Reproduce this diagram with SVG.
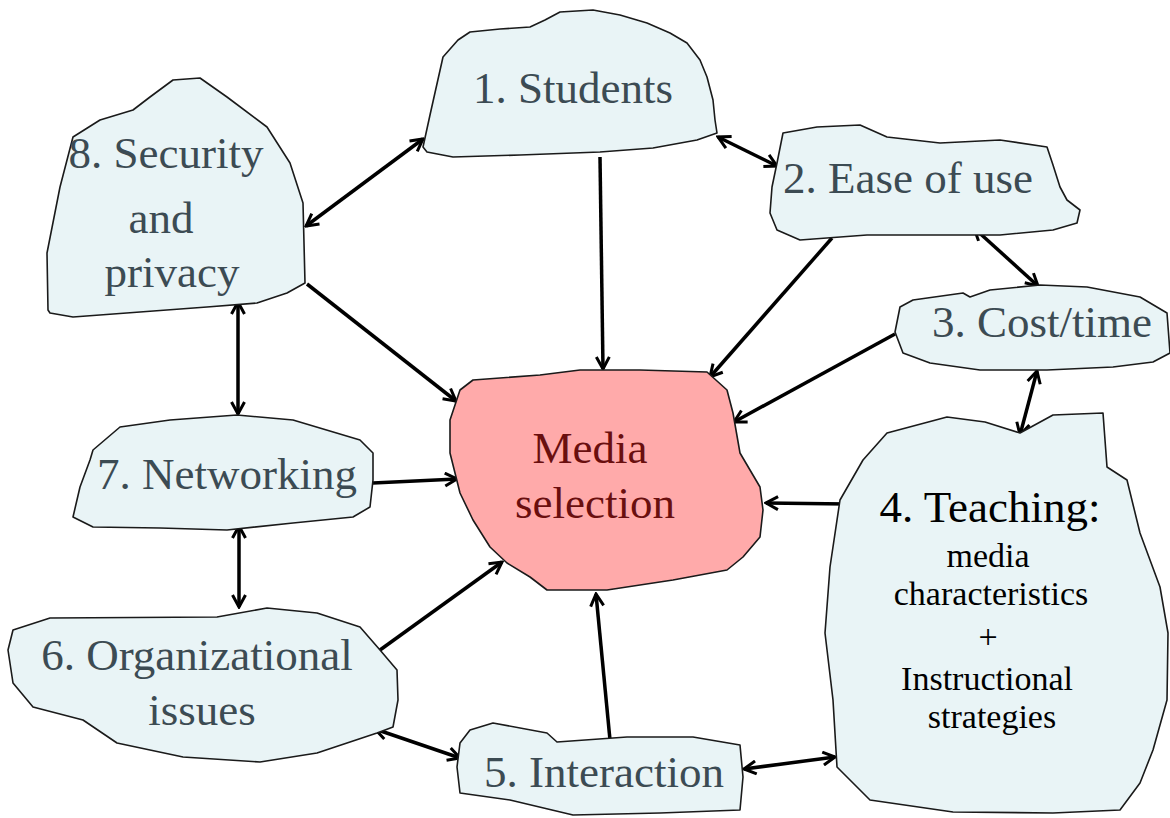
<svg xmlns="http://www.w3.org/2000/svg" width="1170" height="818" viewBox="0 0 1170 818">
<defs>
<marker id="ah" viewBox="0 0 16 16" markerWidth="16" markerHeight="16" refX="14" refY="8" orient="auto-start-reverse" markerUnits="userSpaceOnUse">
<path d="M2,1.5 L14,8 L2,14.5" fill="none" stroke="#000" stroke-width="3" stroke-linejoin="miter"/>
</marker>
</defs>
<style>
.blob{fill:#e9f4f6;stroke:#1a1a1a;stroke-width:1.6;stroke-linejoin:round}
.media{fill:#ffaaaa;stroke:#1a1a1a;stroke-width:1.6;stroke-linejoin:round}
text{font-family:'Liberation Serif','Tinos','DejaVu Serif','Noto Serif',serif}
.t{font-size:45px;fill:#3c4b53;text-anchor:middle}
.tm{font-size:45px;fill:#6a0f0f;text-anchor:middle}
.tk{fill:#000;text-anchor:middle}
.c{stroke:#000;stroke-width:3.5;fill:none}
.one{marker-end:url(#ah)}
.two{marker-start:url(#ah);marker-end:url(#ah)}
</style>
<rect width="1170" height="818" fill="#fff"/>
<g id="connectors">
<line class="c two" x1="423" y1="139" x2="306" y2="226"/>
<line class="c two" x1="718" y1="137" x2="777" y2="166"/>
<line class="c one" x1="600" y1="157" x2="603" y2="369"/>
<line class="c one" x1="832" y1="238" x2="710" y2="377"/>
<line class="c two" x1="974" y1="228" x2="1038" y2="286"/>
<line class="c one" x1="895" y1="334" x2="734" y2="422"/>
<line class="c two" x1="1037" y1="371" x2="1020" y2="435"/>
<line class="c one" x1="847" y1="504" x2="766" y2="503"/>
<line class="c two" x1="744" y1="769" x2="835" y2="757"/>
<line class="c one" x1="610" y1="740" x2="596" y2="594"/>
<line class="c two" x1="375" y1="729" x2="460" y2="758"/>
<line class="c one" x1="380" y1="650" x2="502" y2="562"/>
<line class="c one" x1="373" y1="483" x2="457" y2="479"/>
<line class="c two" x1="239" y1="526" x2="239" y2="607"/>
<line class="c two" x1="238" y1="302" x2="238" y2="414"/>
<line class="c one" x1="307" y1="284" x2="456" y2="401"/>
</g>
<g id="media">
<path class="media" d="M460,390 L473,380 L540,375 L580,370 L640,370 L707,372 L727,390 L733,413 L740,453 L760,487 L763,510 L760,537 L743,557 L727,570 L673,580 L607,590 L547,590 L530,577 L507,563 L490,547 L473,520 L460,493 L450,453 L450,420 Z"/>
<text class="tm" x="590" y="463">Media</text>
<text class="tm" x="595" y="518">selection</text>
</g>
<g id="n1">
<path class="blob" d="M423,147 L430,115 L443,57 L458,40 L470,32 L500,29 L530,27 L545,20 L560,12 L593,10 L620,15 L647,23 L670,33 L687,43 L700,60 L707,77 L713,100 L715,120 L717,133 L697,140 L653,148 L600,152 L520,155 L453,157 L427,152 Z"/>
<text class="t" x="573" y="103">1. Students</text>
</g>
<g id="n2">
<path class="blob" d="M783,133 L817,127 L860,125 L887,137 L940,143 L1000,140 L1047,147 L1053,165 L1060,187 L1067,200 L1080,210 L1077,223 L1053,230 L1000,235 L933,235 L867,235 L800,240 L777,230 L770,213 L772,187 L777,163 Z"/>
<text class="t" x="908" y="193">2. Ease of use</text>
</g>
<g id="n3">
<path class="blob" d="M895,332 L900,307 L913,300 L963,293 L970,297 L990,290 L1040,285 L1087,287 L1140,297 L1167,313 L1170,353 L1153,362 L1113,367 L1047,370 L980,370 L930,363 L903,353 Z"/>
<text class="t" x="1042" y="337">3. Cost/time</text>
</g>
<g id="n4">
<path class="blob" d="M887,433 L947,417 L985,422 L1020,433 L1053,415 L1103,413 L1107,467 L1127,480 L1140,533 L1160,587 L1168,633 L1167,700 L1153,750 L1140,783 L1120,810 L1053,813 L953,812 L870,800 L837,767 L833,700 L825,633 L830,567 L840,500 L863,460 Z"/>
<text class="tk" x="990" y="522" font-size="45">4. Teaching:</text>
<text class="tk" x="988" y="567" font-size="34">media</text>
<text class="tk" x="991" y="605" font-size="34">characteristics</text>
<text class="tk" x="988" y="648" font-size="34">+</text>
<text class="tk" x="987" y="690" font-size="34">Instructional</text>
<text class="tk" x="992" y="728" font-size="34">strategies</text>
</g>
<g id="n5">
<path class="blob" d="M470,730 L493,723 L547,733 L557,742 L627,737 L693,737 L740,745 L743,777 L740,810 L660,813 L573,815 L510,800 L460,793 L457,767 L460,743 Z"/>
<text class="t" x="604" y="787">5. Interaction</text>
</g>
<g id="n6">
<path class="blob" d="M13,630 L50,618 L217,617 L267,608 L317,613 L360,627 L380,650 L397,670 L398,700 L393,727 L377,733 L317,753 L260,762 L183,757 L117,743 L83,720 L33,707 L13,683 L8,650 Z"/>
<text class="t" x="197" y="670">6. Organizational</text>
<text class="t" x="202" y="725">issues</text>
</g>
<g id="n7">
<path class="blob" d="M93,450 L120,427 L170,420 L237,415 L293,420 L360,440 L373,453 L373,480 L370,507 L353,517 L293,523 L227,530 L160,528 L93,527 L73,517 L80,487 L90,460 Z"/>
<text class="t" x="227" y="489">7. Networking</text>
</g>
<g id="n8">
<path class="blob" d="M48,310 L47,253 L60,187 L73,137 L100,120 L133,110 L150,97 L173,80 L200,78 L227,97 L267,127 L290,163 L303,203 L305,283 L287,293 L257,303 L207,307 L140,312 L73,317 L50,313 Z"/>
<text class="t" x="166" y="168">8. Security</text>
<text class="t" x="161" y="233">and</text>
<text class="t" x="172" y="287">privacy</text>
</g>
</svg>
